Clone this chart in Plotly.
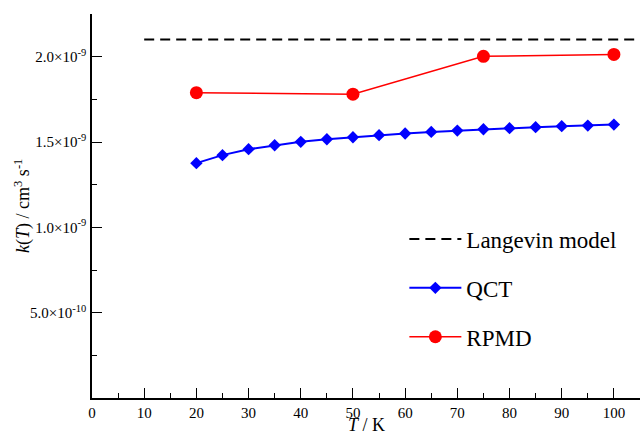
import plotly.graph_objects as go

# ---- data ----
qct_T = [20, 25, 30, 35, 40, 45, 50, 55, 60, 65, 70, 75, 80, 85, 90, 95, 100]
qct_k = [1.376e-9, 1.423e-9, 1.458e-9, 1.481e-9, 1.501e-9, 1.516e-9, 1.528e-9,
         1.540e-9, 1.550e-9, 1.559e-9, 1.567e-9, 1.575e-9, 1.581e-9, 1.587e-9,
         1.593e-9, 1.596e-9, 1.602e-9]
rpmd_T = [20, 50, 75, 100]
rpmd_k = [1.789e-9, 1.780e-9, 2.002e-9, 2.013e-9]
langevin_T = [10, 105]
langevin_k = [2.1e-9, 2.1e-9]

y_tickvals = [5.0e-10, 1.0e-9, 1.5e-9, 2.0e-9]
y_ticktext = ["5.0×10<sup>-10</sup>", "1.0×10<sup>-9</sup>",
              "1.5×10<sup>-9</sup>", "2.0×10<sup>-9</sup>"]
y_minorvals = [0.25e-9, 0.75e-9, 1.25e-9, 1.75e-9, 2.25e-9]
x_tickvals = [0, 10, 20, 30, 40, 50, 60, 70, 80, 90, 100]
x_minorvals = [5, 15, 25, 35, 45, 55, 65, 75, 85, 95, 105]

FONT = "Liberation Serif"

fig = go.Figure()
fig.add_trace(go.Scatter(
    x=langevin_T, y=langevin_k, mode="lines", name="Langevin model",
    line=dict(color="black", width=2, dash="10px,6px"),
    legendgroup="a"))
fig.add_trace(go.Scatter(
    x=qct_T, y=qct_k, mode="lines+markers", name="QCT",
    line=dict(color="#0000ff", width=2),
    marker=dict(symbol="diamond", size=9.5, color="#0000ff"),
    legendgroup="b"))
fig.add_trace(go.Scatter(
    x=rpmd_T, y=rpmd_k, mode="lines+markers", name="RPMD",
    line=dict(color="#ff0000", width=1.5),
    marker=dict(symbol="circle", size=13, color="#ff0000"),
    legendgroup="c"))

fig.update_layout(
    width=641, height=434,
    margin=dict(l=92, r=1, t=14, b=36),
    paper_bgcolor="white", plot_bgcolor="white",
    font=dict(family=FONT, color="black"),
    showlegend=True,
    legend=dict(x=0.57, y=0.47, xanchor="left", yanchor="top",
                font=dict(family=FONT, size=23, color="black"),
                bgcolor="rgba(0,0,0,0)", tracegroupgap=16,
                itemwidth=52),
    xaxis=dict(
        range=[0, 105], showgrid=False, zeroline=False,
        showline=True, linecolor="black", linewidth=1.5,
        ticks="inside", ticklen=10, tickwidth=1.2, tickcolor="black",
        tickmode="array", tickvals=x_tickvals,
        tickfont=dict(family=FONT, size=15),
        minor=dict(tickmode="array", tickvals=x_minorvals, ticks="inside",
                   ticklen=5, tickwidth=1.2, tickcolor="black"),
        automargin=False,
    ),
    yaxis=dict(
        range=[0, 2.25e-9], showgrid=False, zeroline=False,
        showline=True, linecolor="black", linewidth=1.5,
        ticks="inside", ticklen=10, tickwidth=1.2, tickcolor="black",
        tickmode="array", tickvals=y_tickvals, ticktext=y_ticktext,
        tickfont=dict(family=FONT, size=15),
        ticklabelstandoff=1,
        minor=dict(tickmode="array", tickvals=y_minorvals, ticks="inside",
                   ticklen=5, tickwidth=1.2, tickcolor="black"),
        automargin=False,
    ),
    annotations=[
        dict(text="<i>k</i>(<i>T</i>) / cm<sup>3</sup> s<sup>-1</sup>",
             xref="paper", yref="paper", x=-0.126, y=0.5,
             xanchor="center", yanchor="middle", textangle=-90,
             showarrow=False,
             font=dict(family=FONT, size=18, color="black")),
        dict(text="<i>T</i> / K",
             xref="paper", yref="paper", x=0.5, y=-0.071,
             xanchor="center", yanchor="middle", showarrow=False,
             font=dict(family=FONT, size=18, color="black")),
    ],
)

fig.write_html("out.html", config={"displayModeBar": False},
               post_script="document.body.style.margin='0';")
